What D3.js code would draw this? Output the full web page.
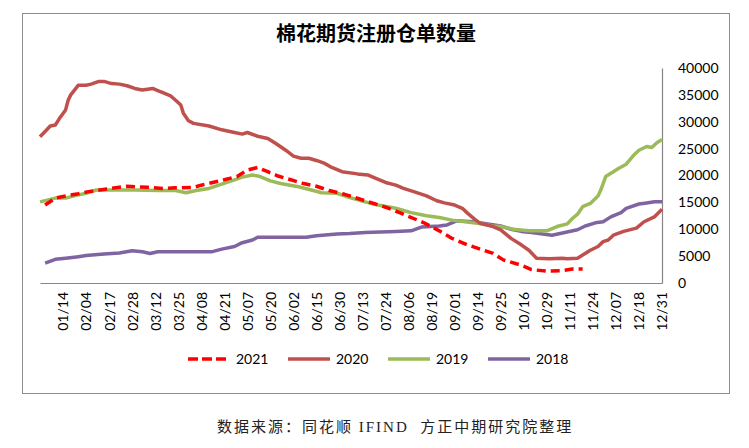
<!DOCTYPE html>
<html><head><meta charset="utf-8">
<script src="https://cdn.jsdelivr.net/npm/d3@7/dist/d3.min.js"></script>
<style>
html,body{margin:0;padding:0;background:#fff;}
svg{display:block;}
</style></head>
<body><svg id="chart" width="749" height="448"></svg>
<script>
// ---- data ----
const title = "棉花期货注册仓单数量";
const source = "数据来源：同花顺 IFIND  方正中期研究院整理";
const tickLabels = ["01/14","02/04","02/17","02/28","03/12","03/25","04/08","04/21","05/07","05/20","06/02","06/15","06/30","07/13","07/24","08/06","08/19","09/01","09/14","09/25","10/16","10/29","11/11","11/24","12/07","12/18","12/31"];
const yTicks = [0,5000,10000,15000,20000,25000,30000,35000,40000];
const seriesNames = ["2021","2020","2019","2018"];

// trading-day index and registered warehouse receipts
const days2021 = [2,6,10,15,19,26,31,34,42,48,53,60,63,72,77,81,85,89,93,98,103,108,113,119,127,135,141,150,156,161,167,172,177,181,188,192,198,204,208,212];
const vals2021 = [14500,15800,16200,16600,17000,17500,17800,18000,17800,17600,17700,17800,18200,19200,19800,21000,21500,20700,19900,19200,18500,18000,17200,16500,15300,14100,13000,11200,9700,8300,7100,6300,5500,4300,3300,2500,2200,2300,2600,2600];

const days2020 = [0,2,4,6,8,10,11,12,15,18,20,23,25,28,31,34,37,40,44,46,48,51,53,55,56,58,60,66,71,76,79,81,85,89,92,96,99,102,105,108,111,114,118,124,128,131,135,139,142,146,151,155,158,162,165,167,170,172,177,180,184,188,191,194,199,204,206,210,212,215,218,220,222,224,228,233,236,240,243];
const vals2020 = [27200,28200,29200,29400,30900,32200,34000,35000,36800,36800,37000,37500,37500,37100,37000,36700,36200,35900,36200,35800,35400,34800,34000,33100,31600,30200,29700,29200,28500,28000,27700,28000,27300,26900,26000,24700,23600,23200,23200,22800,22300,21500,20700,20300,20100,19500,18700,18200,17600,17000,16200,15300,14900,14500,13900,13000,11800,11100,10500,9900,8300,7100,6100,4600,4500,4600,4500,4600,5200,6100,6800,7700,8000,8900,9600,10200,11400,12300,13700];

const days2019 = [0,6,10,15,18,22,30,37,46,53,57,61,66,71,76,79,83,86,90,94,101,106,110,116,121,127,132,139,145,151,156,161,166,171,177,180,185,191,198,202,206,208,210,212,215,218,219,221,224,226,229,232,234,237,239,241,243];
const vals2019 = [15100,15800,15800,16400,16700,17300,17300,17300,17200,17200,16800,17200,17600,18400,19200,19700,20100,19800,19000,18500,17900,17300,16800,16700,15900,15100,14500,13900,13100,12500,12200,11700,11400,11100,10600,10500,10000,9700,9700,10500,11000,12000,12800,14200,14800,16200,17200,19800,20700,21300,22100,23800,24700,25400,25200,26100,26700];

const days2018 = [2,6,10,15,18,25,31,36,40,43,46,53,61,67,71,76,79,83,85,92,104,108,116,121,127,139,145,149,156,159,163,169,173,180,184,188,192,200,205,210,213,217,220,223,227,229,234,237,240,243];
const vals2018 = [3700,4400,4600,4900,5100,5400,5600,6000,5800,5500,5800,5800,5800,5800,6300,6800,7500,8000,8500,8500,8500,8800,9100,9200,9400,9600,9700,10400,10600,10800,11600,11400,11100,10600,10000,9600,9400,8900,9400,9900,10600,11200,11400,12300,13100,13900,14700,14900,15100,15100];

const seriesColors = {"2021":"#FF0000","2020":"#C0504D","2019":"#9BBB59","2018":"#8064A2"};
const seriesData = {
  "2021": d3.zip(days2021, vals2021),
  "2020": d3.zip(days2020, vals2020),
  "2019": d3.zip(days2019, vals2019),
  "2018": d3.zip(days2018, vals2018)
};

// ---- layout ----
const svg = d3.select("#chart");
const L = 40, R = 662, T = 68, B = 283;
const dayStep = 9;
const lastDay = dayStep * tickLabels.length;

const x = d3.scaleLinear().domain([0, lastDay]).range([L, R]);
const y = d3.scaleLinear().domain([0, 40000]).range([B, T]);

// frame
svg.append("rect").attr("x", 22.5).attr("y", 13.5).attr("width", 707).attr("height", 380)
  .attr("fill", "#fff").attr("stroke", "#8c8c8c").attr("stroke-width", 1);

// title
svg.append("text").attr("x", 376).attr("y", 41).attr("text-anchor", "middle")
  .attr("font-family", "'Noto Sans CJK SC'").attr("font-weight", "bold").attr("font-size", 20)
  .attr("fill", "#000").text(title);

// x axis
const xAxis = d3.axisBottom(x)
  .tickValues(tickLabels.map((d, i) => (i + 1) * dayStep))
  .tickFormat((d, i) => tickLabels[i])
  .tickSize(0).tickPadding(0);
const gx = svg.append("g").attr("transform", `translate(0,${B})`).call(xAxis);
gx.select(".domain").attr("stroke", "#868686").attr("stroke-width", 1.2);
gx.selectAll("text")
  .attr("font-family", "Lato, 'Liberation Sans', sans-serif").attr("font-size", 14).attr("fill", "#000")
  .attr("text-anchor", "end").attr("transform", "translate(0,9) rotate(-90)")
  .attr("dy", "0.35em").attr("y", 0).attr("x", 0);

// y axis (right)
const yAxis = d3.axisRight(y).tickValues(yTicks).tickFormat(d3.format("d")).tickSize(0).tickPadding(16);
const gy = svg.append("g").attr("transform", `translate(${R},0)`).call(yAxis);
gy.select(".domain").attr("stroke", "#868686").attr("stroke-width", 1.2);
gy.selectAll("text").attr("font-family", "Lato, 'Liberation Sans', sans-serif").attr("font-size", 14).attr("fill", "#000");

// lines
const line = d3.line().x(d => x(d[0])).y(d => y(d[1]));
const drawOrder = ["2018", "2019", "2020", "2021"];
drawOrder.forEach(name => {
  svg.append("path").datum(seriesData[name])
    .attr("d", line).attr("fill", "none")
    .attr("stroke", seriesColors[name]).attr("stroke-width", 3.5)
    .attr("stroke-linejoin", "round")
    .attr("stroke-dasharray", name === "2021" ? "9,5" : null);
});

// legend
const legendX = [188, 288, 388, 488];
const lg = svg.append("g");
seriesNames.forEach((name, i) => {
  const g = lg.append("g").attr("transform", `translate(${legendX[i]},359)`);
  g.append("line").attr("x1", 0).attr("x2", 42).attr("y1", 0).attr("y2", 0)
    .attr("stroke", seriesColors[name]).attr("stroke-width", 3.5)
    .attr("stroke-dasharray", name === "2021" ? "10,4" : null);
  g.append("text").attr("x", 48).attr("y", 0).attr("dy", "0.35em")
    .attr("font-family", "Lato, 'Liberation Sans', sans-serif").attr("font-size", 14).attr("fill", "#000").text(name);
});

// source
svg.append("text").attr("x", 217).attr("y", 432)
  .attr("font-family", "'Liberation Serif', 'Noto Sans CJK SC', serif").attr("font-size", 15)
  .attr("letter-spacing", 2).attr("fill", "#222").attr("xml:space", "preserve")
  .style("white-space", "pre").text(source);
</script>
</body></html>
